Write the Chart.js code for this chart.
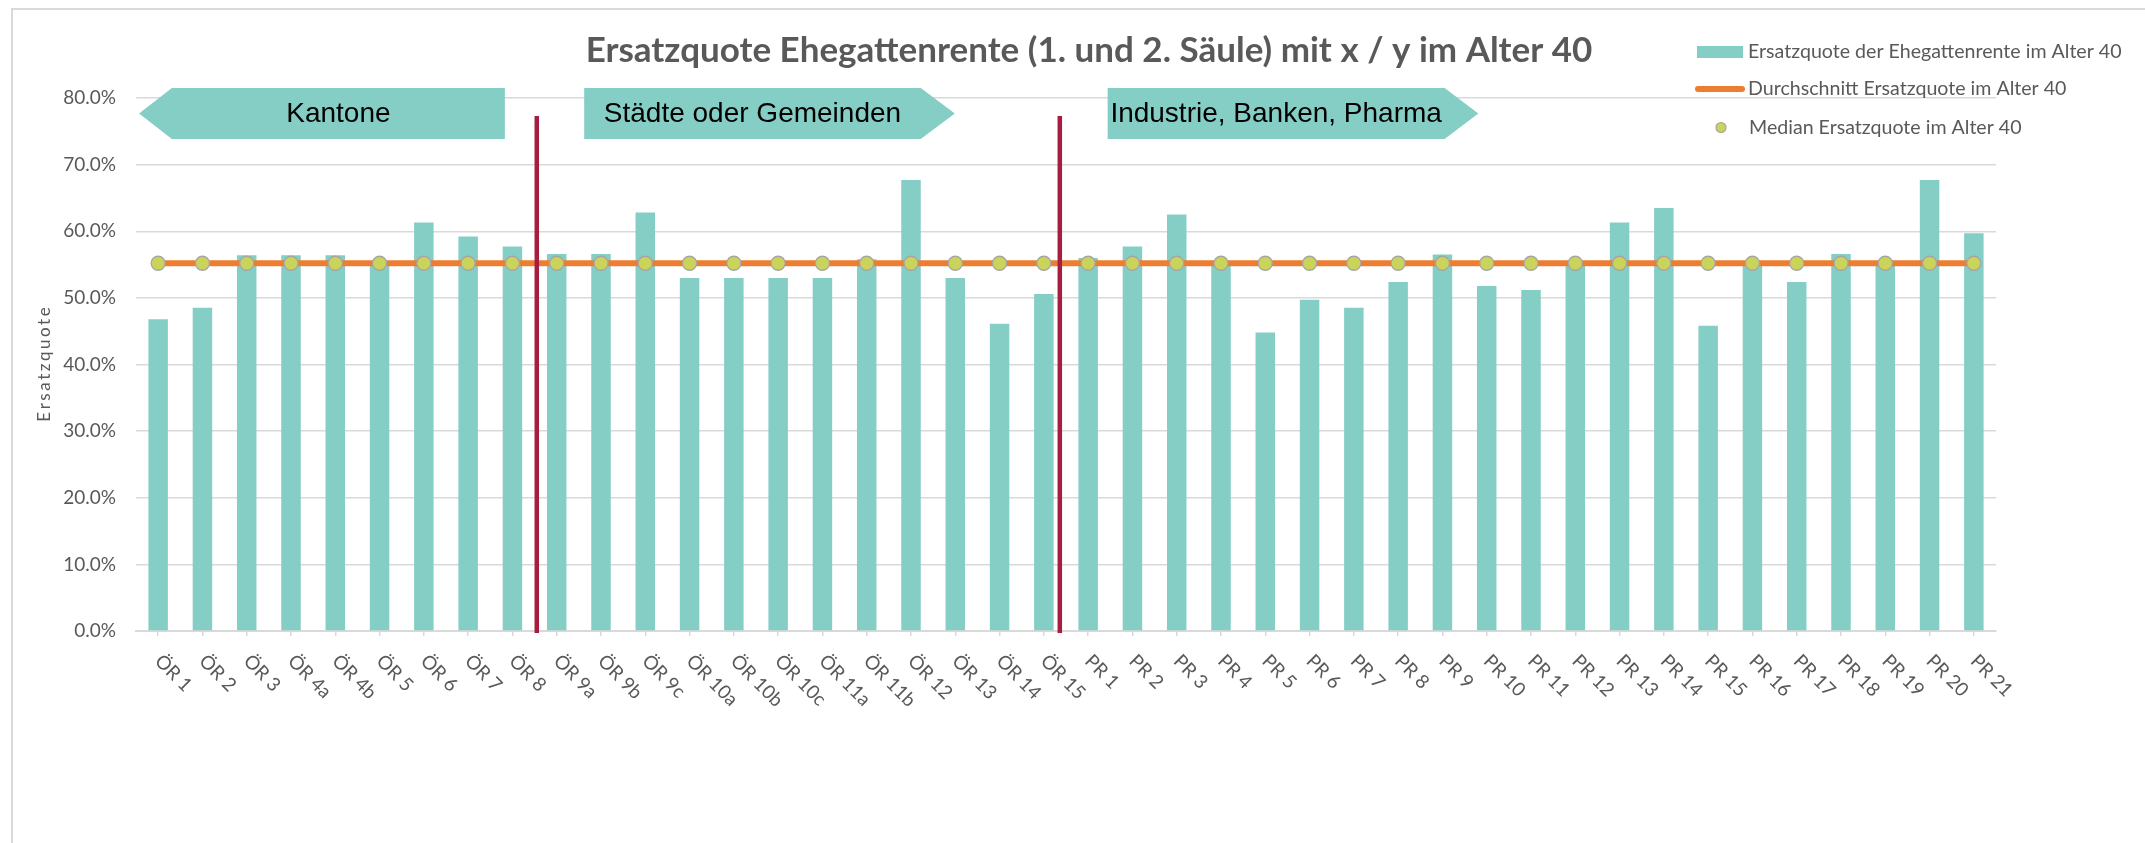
<!DOCTYPE html>
<html>
<head>
<meta charset="utf-8">
<script src="https://cdn.jsdelivr.net/npm/chart.js@4/dist/chart.umd.min.js"></script>
<style>
html,body{margin:0;padding:0;background:#ffffff;}
#wrap{width:2145px;height:843px;position:relative;}
</style>
</head>
<body>
<div id="wrap"><canvas id="c" width="2145" height="843"></canvas></div>
<script>
// ---------- data ----------
const categories = ['ÖR 1','ÖR 2','ÖR 3','ÖR 4a','ÖR 4b','ÖR 5','ÖR 6','ÖR 7','ÖR 8','ÖR 9a','ÖR 9b','ÖR 9c','ÖR 10a','ÖR 10b','ÖR 10c','ÖR 11a','ÖR 11b','ÖR 12','ÖR 13','ÖR 14','ÖR 15',
  'PR 1','PR 2','PR 3','PR 4','PR 5','PR 6','PR 7','PR 8','PR 9','PR 10','PR 11','PR 12','PR 13','PR 14','PR 15','PR 16','PR 17','PR 18','PR 19','PR 20','PR 21'];
const ersatzquote = [46.8,48.5,56.4,56.4,56.4,55.2,61.3,59.2,57.7,56.6,56.6,62.8,53.0,53.0,53.0,53.0,55.8,67.7,53.0,46.1,50.6,
  56.0,57.7,62.5,55.2,44.8,49.7,48.5,52.4,56.5,51.8,51.2,55.2,61.3,63.5,45.8,55.2,52.4,56.6,55.2,67.7,59.7];
const durchschnitt = [55.2,55.2,55.2,55.2,55.2,55.2,55.2,55.2,55.2,55.2,55.2,55.2,55.2,55.2,55.2,55.2,55.2,55.2,55.2,55.2,55.2,
  55.2,55.2,55.2,55.2,55.2,55.2,55.2,55.2,55.2,55.2,55.2,55.2,55.2,55.2,55.2,55.2,55.2,55.2,55.2,55.2,55.2];
const median = [55.2,55.2,55.2,55.2,55.2,55.2,55.2,55.2,55.2,55.2,55.2,55.2,55.2,55.2,55.2,55.2,55.2,55.2,55.2,55.2,55.2,
  55.2,55.2,55.2,55.2,55.2,55.2,55.2,55.2,55.2,55.2,55.2,55.2,55.2,55.2,55.2,55.2,55.2,55.2,55.2,55.2,55.2];
const yTicks = [0,10,20,30,40,50,60,70,80];
const seriesNames = ['Ersatzquote der Ehegattenrente im Alter 40','Durchschnitt Ersatzquote im Alter 40','Median Ersatzquote im Alter 40'];
const groupLabels = ['Kantone','Städte oder Gemeinden','Industrie, Banken, Pharma'];
const chartTitle = 'Ersatzquote Ehegattenrente (1. und 2. Säule) mit x / y im Alter 40';
const yAxisTitle = 'Ersatzquote';

// ---------- styles ----------
const C_BAR = '#85CEC5', C_AVG = '#ED7D31', C_MED = '#CAD35A', C_MED_B = '#A5A5A5';
const C_TXT = '#595959', C_GRID = '#D9D9D9', C_RED = '#A71D3F';
const FONT = 'Lato, "Open Sans", sans-serif';

// decoration geometry in scale units (category index / percent)
const arrows = [
  {tip:-0.43, x0:0.31, x1:7.83, dir:'left'},
  {x0:9.62, x1:17.22, tip:17.99, dir:'right'},
  {x0:21.44, x1:29.05, tip:29.81, dir:'right'}
];
const arrowTop = 81.5, arrowBottom = 73.85;
const dividers = [8.55, 20.36];
const dividerTop = 77.3;

function spacedText(ctx, text, cx, cy, spacing){
  const chars = Array.from(text);
  const widths = chars.map(ch => ctx.measureText(ch).width);
  const total = widths.reduce((a,b)=>a+b,0) + spacing*(chars.length-1);
  let x = cx - total/2;
  ctx.textAlign = 'left';
  chars.forEach((ch,i) => { ctx.fillText(ch, x, cy); x += widths[i] + spacing; });
}

const decor = {
  id:'decor',
  beforeDraw(chart){
    const ctx = chart.ctx;
    ctx.save();
    ctx.fillStyle = '#ffffff';
    ctx.fillRect(0,0,chart.width,chart.height);
    ctx.strokeStyle = C_GRID; ctx.lineWidth = 2;
    ctx.beginPath(); ctx.moveTo(12,843); ctx.lineTo(12,9); ctx.lineTo(2145,9); ctx.stroke();
    ctx.restore();
  },
  afterDatasetsDraw(chart){
    const ctx = chart.ctx, xs = chart.scales.x, ys = chart.scales.y;
    ctx.save();
    ctx.strokeStyle = C_RED; ctx.lineWidth = 4.5;
    dividers.forEach(v => {
      const x = xs.getPixelForValue(v);
      ctx.beginPath(); ctx.moveTo(x, ys.getPixelForValue(dividerTop)); ctx.lineTo(x, chart.chartArea.bottom + 2); ctx.stroke();
    });
    const yt = ys.getPixelForValue(arrowTop), yb = ys.getPixelForValue(arrowBottom), ym = (yt+yb)/2;
    arrows.forEach((a,i) => {
      const x0 = xs.getPixelForValue(a.x0), x1 = xs.getPixelForValue(a.x1), xt = xs.getPixelForValue(a.tip);
      ctx.fillStyle = C_BAR;
      ctx.beginPath();
      if (a.dir === 'left') {
        ctx.moveTo(xt, ym); ctx.lineTo(x0, yt); ctx.lineTo(x1, yt); ctx.lineTo(x1, yb); ctx.lineTo(x0, yb);
      } else {
        ctx.moveTo(x0, yt); ctx.lineTo(x1, yt); ctx.lineTo(xt, ym); ctx.lineTo(x1, yb); ctx.lineTo(x0, yb);
      }
      ctx.closePath(); ctx.fill();
      ctx.fillStyle = '#000000';
      ctx.font = '28px "Liberation Sans", Arial, sans-serif';
      ctx.textAlign = 'center'; ctx.textBaseline = 'middle';
      ctx.fillText(groupLabels[i], (x0+x1)/2, ym + 1);
    });
    ctx.restore();
  },
  afterDraw(chart){
    const ctx = chart.ctx, xs = chart.scales.x, ca = chart.chartArea;
    ctx.save();
    // title
    ctx.fillStyle = C_TXT;
    ctx.font = 'bold 35px ' + FONT;
    ctx.textAlign = 'center'; ctx.textBaseline = 'alphabetic';
    ctx.fillText(chartTitle, 1089, 62);
    // y axis title
    ctx.save();
    ctx.translate(45, (ca.top + ca.bottom)/2);
    ctx.rotate(-Math.PI/2);
    ctx.font = '17px ' + FONT;
    ctx.textBaseline = 'middle';
    spacedText(ctx, yAxisTitle, 0, 0, 2.5);
    ctx.restore();
    // x labels rotated
    ctx.font = '19px ' + FONT;
    ctx.fillStyle = C_TXT;
    ctx.textAlign = 'left'; ctx.textBaseline = 'middle';
    categories.forEach((lab, i) => {
      const x = xs.getPixelForValue(i);
      ctx.save();
      ctx.translate(x, ca.bottom + 27);
      ctx.rotate(Math.PI/4);
      ctx.fillText(lab, 0, 0);
      ctx.restore();
    });
    // legend
    const ds = chart.data.datasets;
    ctx.font = '19.6px ' + FONT;
    ctx.textAlign = 'left'; ctx.textBaseline = 'middle';
    ctx.fillStyle = ds[0].backgroundColor; ctx.fillRect(1697, 46, 46, 12);
    ctx.fillStyle = C_TXT; ctx.fillText(ds[0].label, 1748, 52);
    ctx.strokeStyle = ds[1].borderColor; ctx.lineWidth = 6; ctx.lineCap = 'round';
    ctx.beginPath(); ctx.moveTo(1698, 89); ctx.lineTo(1742, 89); ctx.stroke();
    ctx.fillStyle = C_TXT; ctx.fillText(ds[1].label, 1748, 89);
    ctx.fillStyle = ds[2].pointBackgroundColor; ctx.strokeStyle = ds[2].pointBorderColor; ctx.lineWidth = 1.2;
    ctx.beginPath(); ctx.arc(1721, 127.5, 5, 0, Math.PI*2); ctx.fill(); ctx.stroke();
    ctx.fillStyle = C_TXT; ctx.fillText(ds[2].label, 1749, 127.5);
    ctx.restore();
  }
};

new Chart(document.getElementById('c'), {
  data: {
    labels: categories,
    datasets: [
      {type:'bar', label: seriesNames[0], data: ersatzquote, backgroundColor: C_BAR, barPercentage: 0.44, categoryPercentage: 1, order: 3},
      {type:'line', label: seriesNames[1], data: durchschnitt, borderColor: C_AVG, backgroundColor: C_AVG, borderWidth: 6, pointRadius: 0, fill: false, order: 2},
      {type:'line', label: seriesNames[2], data: median, showLine: false, pointRadius: 7, pointBackgroundColor: C_MED, pointBorderColor: C_MED_B, pointBorderWidth: 1.3, borderColor: C_MED_B, backgroundColor: C_MED, order: 1}
    ]
  },
  options: {
    responsive: false,
    devicePixelRatio: 1,
    animation: false,
    events: [],
    layout: {padding: {top: 98, right: 149, bottom: 0, left: 0}},
    plugins: {legend: {display: false}, title: {display: false}, tooltip: {enabled: false}},
    scales: {
      x: {
        type: 'category',
        offset: true,
        grid: {offset: false, drawOnChartArea: false, drawTicks: true, tickLength: 5, color: C_GRID, lineWidth: 1.5},
        border: {display: true, color: C_GRID, width: 2},
        ticks: {display: false},
        afterFit(scale){ scale.height = 212; }
      },
      y: {
        min: yTicks[0], max: yTicks[yTicks.length-1],
        afterBuildTicks(scale){ scale.ticks = yTicks.map(v => ({value: v})); },
        grid: {color: C_GRID, lineWidth: 1.5, drawTicks: false},
        border: {display: false},
        ticks: {padding: 20, color: C_TXT, font: {family: FONT, size: 19}, callback: v => v.toFixed(1) + '%'},
        afterFit(scale){ scale.width = 136; }
      }
    }
  },
  plugins: [decor]
});
</script>
</body>
</html>
